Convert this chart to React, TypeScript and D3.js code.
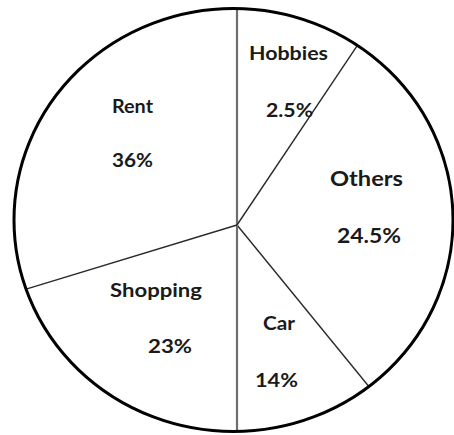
import React from 'react';
import * as d3 from 'd3';

// categories in clockwise order from 12 o'clock
const categories = ['Hobbies', 'Others', 'Car', 'Shopping', 'Rent'];
// percentages printed on the chart
const percentLabels = ['2.5%', '24.5%', '14%', '23%', '36%'];
// the slices in the picture are not drawn to scale, these are the shares as drawn (%)
const drawnShares = [9.4, 29.7, 10.9, 20.3, 29.7];

const W = 454;
const H = 435;

export default function App() {
    // outer rim is a bit wider than tall, hub sits a little right/below its centre
    const cx = 233.5;
    const cy = 220;
    const rx = 219.5;
    const ry = 211.5;
    const hub = [237, 225];

    const pie = d3
        .pie<number>()
        .sort(null)
        .value((d) => d)
        .startAngle(0)
        .endAngle(2 * Math.PI);
    const arcs = pie(drawnShares);

    // ray from hub at angle a (0 = up, clockwise) to the ellipse rim
    const rimPoint = (a: number) => {
        const dx = Math.sin(a);
        const dy = -Math.cos(a);
        const px = hub[0] - cx;
        const py = hub[1] - cy;
        const A = (dx * dx) / (rx * rx) + (dy * dy) / (ry * ry);
        const B = 2 * ((px * dx) / (rx * rx) + (py * dy) / (ry * ry));
        const C = (px * px) / (rx * rx) + (py * py) / (ry * ry) - 1;
        const t = (-B + Math.sqrt(B * B - 4 * A * C)) / (2 * A);
        return [hub[0] + t * dx, hub[1] + t * dy];
    };

    // label spots: name x, baseline, width | pct x, baseline, width | font size
    const labelPos = [
        [288.5, 60, 79, 289.5, 117, 47, 19],
        [366.5, 186, 73, 369, 243, 64, 21],
        [279, 330, 32, 276.5, 387, 43, 19],
        [156, 297, 92, 170, 353, 44, 19],
        [132.5, 113, 41, 132.5, 167, 41, 19],
    ];

    return (
        <svg width={W} height={H} style={{ position: 'absolute', left: 0, top: 0 }}>
            <rect width={W} height={H} fill="#ffffff" />
            {arcs.map((a, i) => {
                const [x2, y2] = rimPoint(a.startAngle);
                const vertical = Math.abs(Math.sin(a.startAngle)) < 1e-6;
                return (
                    <line
                        key={'l' + i}
                        x1={hub[0]}
                        y1={hub[1]}
                        x2={x2}
                        y2={y2}
                        stroke={vertical ? '#6e6e6e' : '#2a2a2a'}
                        strokeWidth={vertical ? 2.2 : 1.4}
                    />
                );
            })}
            <ellipse cx={cx} cy={cy} rx={rx} ry={ry} fill="none" stroke="#000" strokeWidth={3} />
            {categories.map((c, i) => {
                const [nx, ny, nw, px, py, pw, fs] = labelPos[i];
                return (
                    <g
                        key={c}
                        fontFamily="Lato, 'Open Sans', sans-serif"
                        fontWeight="bold"
                        fontSize={fs}
                        fill="#1a1a1a"
                        textAnchor="middle"
                    >
                        <text x={nx} y={ny} textLength={nw} lengthAdjust="spacingAndGlyphs">
                            {c}
                        </text>
                        <text x={px} y={py} textLength={pw} lengthAdjust="spacingAndGlyphs">
                            {percentLabels[i]}
                        </text>
                    </g>
                );
            })}
        </svg>
    );
}
